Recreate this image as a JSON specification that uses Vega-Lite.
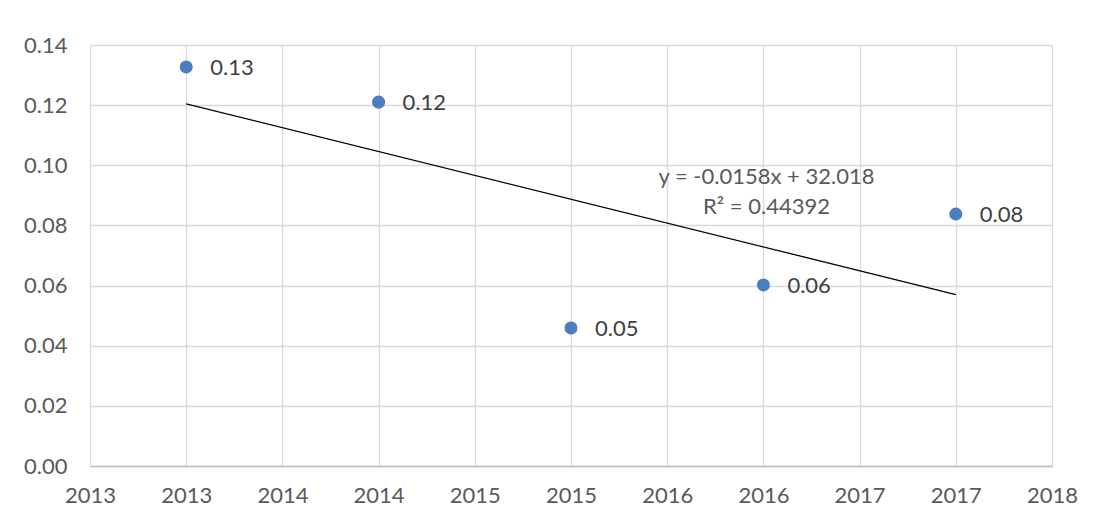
{
  "$schema": "https://vega.github.io/schema/vega-lite/v6.json",
  "width": 962,
  "height": 421,
  "autosize": "none",
  "padding": {"left": 90, "top": 45, "right": 53, "bottom": 59},
  "background": "white",
  "config": {
    "view": {"stroke": null},
    "font": "Lato",
    "axis": {
      "labelFont": "Lato",
      "labelFontSize": 22,
      "labelColor": "#595959",
      "gridColor": "#D9D9D9",
      "gridWidth": 1.3,
      "ticks": false,
      "title": null
    }
  },
  "datasets": {
    "pts": [
      {"year": 2013, "value": 0.1327, "label": "0.13"},
      {"year": 2014, "value": 0.1210, "label": "0.12"},
      {"year": 2015, "value": 0.0459, "label": "0.05"},
      {"year": 2016, "value": 0.0602, "label": "0.06"},
      {"year": 2017, "value": 0.0838, "label": "0.08"}
    ],
    "ann": [
      {"year": 2016.016, "value": 0.0960, "text": "y = -0.0158x + 32.018"},
      {"year": 2016.016, "value": 0.0860, "text": "R² = 0.44392"}
    ]
  },
  "layer": [
    {
      "data": {"name": "pts"},
      "mark": {"type": "point", "filled": true, "size": 170, "color": "#4a7ebf", "opacity": 1},
      "encoding": {
        "x": {
          "field": "year", "type": "quantitative",
          "scale": {"domain": [2012.5, 2017.5], "nice": false, "zero": false},
          "axis": {
            "values": [2012.5, 2013, 2013.5, 2014, 2014.5, 2015, 2015.5, 2016, 2016.5, 2017, 2017.5],
            "format": ".0f",
            "labelPadding": 19,
            "domainColor": "#BFBFBF",
            "domainWidth": 1.5,
            "labelFlush": false
          }
        },
        "y": {
          "field": "value", "type": "quantitative",
          "scale": {"domain": [0, 0.14], "nice": false},
          "axis": {
            "values": [0, 0.02, 0.04, 0.06, 0.08, 0.1, 0.12, 0.14],
            "format": ".2f",
            "labelPadding": 23,
            "domain": false,
            "labelFlush": false
          }
        }
      }
    },
    {
      "data": {"name": "pts"},
      "mark": {"type": "text", "align": "left", "baseline": "middle", "dx": 24, "dy": 1, "fontSize": 22, "color": "#404040", "font": "Lato"},
      "encoding": {
        "x": {"field": "year", "type": "quantitative"},
        "y": {"field": "value", "type": "quantitative"},
        "text": {"field": "label"}
      }
    },
    {
      "data": {"name": "pts"},
      "transform": [{"regression": "value", "on": "year"}],
      "mark": {"type": "line", "color": "#000000", "strokeWidth": 1.3},
      "encoding": {
        "x": {"field": "year", "type": "quantitative"},
        "y": {"field": "value", "type": "quantitative"}
      }
    },
    {
      "data": {"name": "ann"},
      "mark": {"type": "text", "align": "center", "baseline": "middle", "fontSize": 22, "color": "#595959", "font": "Lato"},
      "encoding": {
        "x": {"field": "year", "type": "quantitative"},
        "y": {"field": "value", "type": "quantitative"},
        "text": {"field": "text"}
      }
    }
  ]
}
